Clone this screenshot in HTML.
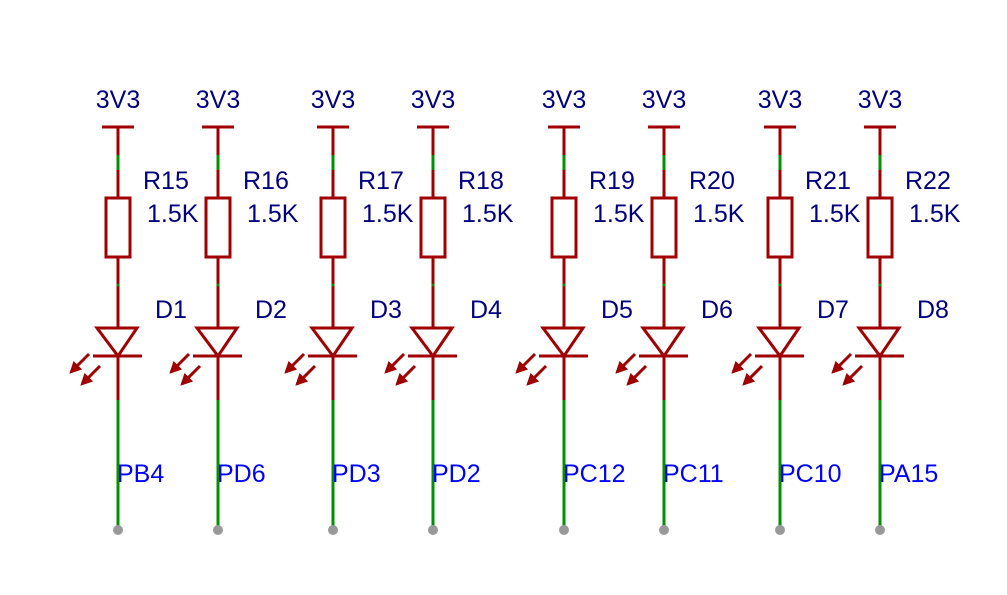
<!DOCTYPE html>
<html><head><meta charset="utf-8"><style>
html,body{margin:0;padding:0;background:#fff;}
svg{display:block;}
text{font-family:"Liberation Sans",sans-serif;font-size:25px;}
</style></head><body>
<svg id="sch" width="1007" height="595" viewBox="0 0 1007 595" xmlns="http://www.w3.org/2000/svg">
<defs>
<marker id="ah" viewBox="0 0 10 10" refX="8" refY="5" markerWidth="4" markerHeight="4" orient="auto"><path d="M0,0 L10,5 L0,10 z" fill="#a00000"/></marker>
</defs>
</svg>
<script>
const xs=[118,218,333,433,564,664,780,880];
const resNames=["R15","R16","R17","R18","R19","R20","R21","R22"];
const ledNames=["D1","D2","D3","D4","D5","D6","D7","D8"];
const nets=["PB4","PD6","PD3","PD2","PC12","PC11","PC10","PA15"];
const svg=document.getElementById('sch');
const NS="http://www.w3.org/2000/svg";
const RED="#a00000",GRN="#009000";
function mk(tag,attrs,parent){const e=document.createElementNS(NS,tag);for(const k in attrs)e.setAttribute(k,attrs[k]);(parent||svg).appendChild(e);return e;}
xs.forEach((x,i)=>{
  const g=mk('g',{});
  
  
  const sw=3;
  const t1=mk('text',{x:x,y:108,'text-anchor':'middle',fill:'#000080'},g);t1.textContent='3V3';
  
  
  mk('line',{x1:x-16,y1:127,x2:x+16,y2:127,stroke:RED,'stroke-width':sw},g);
  mk('line',{x1:x,y1:127,x2:x,y2:155,stroke:RED,'stroke-width':sw},g);
  mk('line',{x1:x,y1:155,x2:x,y2:170,stroke:GRN,'stroke-width':sw},g);
  mk('line',{x1:x,y1:170,x2:x,y2:198,stroke:RED,'stroke-width':sw},g);
  const r=mk('rect',{x:x-12,y:198,width:24,height:59,fill:'none',stroke:RED,'stroke-width':sw},g);
  
  
  const t2=mk('text',{x:x+25,y:189,fill:'#000080'},g);t2.textContent=resNames[i];
  
  
  const t3=mk('text',{x:x+29,y:222,fill:'#000080'},g);t3.textContent='1.5K';
  
  
  mk('line',{x1:x,y1:257,x2:x,y2:328,stroke:RED,'stroke-width':sw},g);
  mk('circle',{cx:x,cy:285,r:1.5,fill:GRN},g);
  const d=mk('path',{d:`M${x-21},328 L${x+19},328 L${x},356 Z`,fill:'none',stroke:RED,'stroke-width':sw,'stroke-linejoin':'miter'},g);
  
  
  mk('line',{x1:x-25,y1:356,x2:x+24,y2:356,stroke:RED,'stroke-width':sw},g);
  mk('line',{x1:x-29,y1:354,x2:x-47,y2:372,stroke:RED,'stroke-width':sw,'marker-end':'url(#ah)'},g);
  mk('line',{x1:x-18,y1:366,x2:x-36,y2:384,stroke:RED,'stroke-width':sw,'marker-end':'url(#ah)'},g);
  const t4=mk('text',{x:x+37,y:318,fill:'#000080'},g);t4.textContent=ledNames[i];
  
  
  mk('line',{x1:x,y1:356,x2:x,y2:400,stroke:RED,'stroke-width':sw},g);
  mk('line',{x1:x,y1:400,x2:x,y2:530,stroke:GRN,'stroke-width':sw},g);
  const t5=mk('text',{x:x-1,y:482,fill:'#0000ff'},g);t5.textContent=nets[i];
  
  
  const c=mk('circle',{cx:x,cy:530,r:5,fill:'#999'},g);
  
  
});
</script>
</body></html>
